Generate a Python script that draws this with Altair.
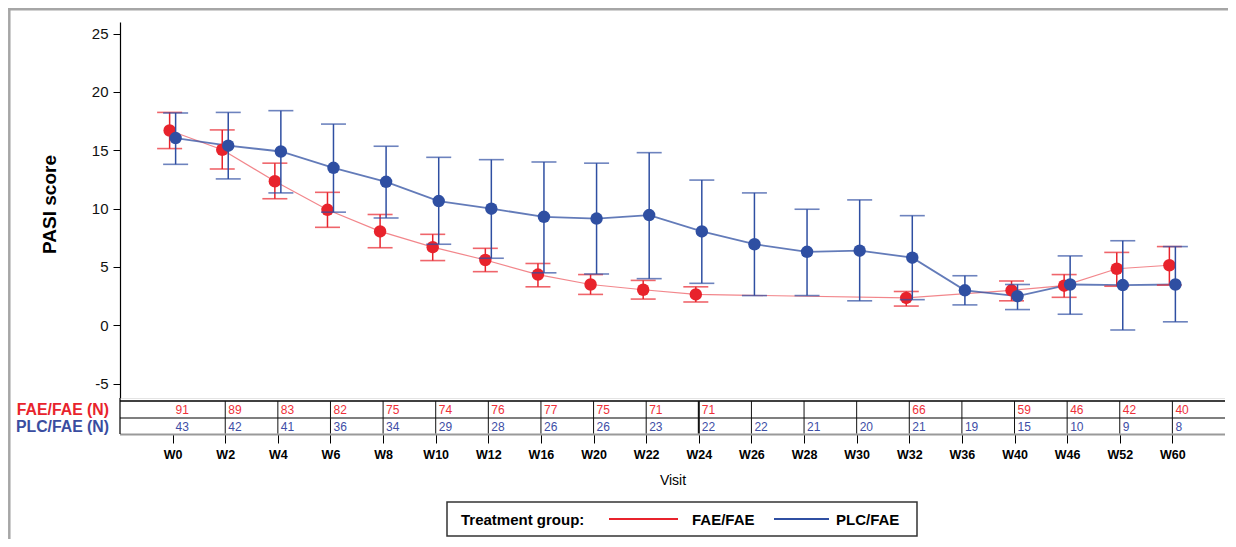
import altair as alt
import pandas as pd

visits = ["W0", "W2", "W4", "W6", "W8", "W10", "W12", "W16", "W20", "W22",
          "W24", "W26", "W28", "W30", "W32", "W36", "W40", "W46", "W52", "W60"]
groups = ["FAE/FAE", "PLC/FAE"]

fae_mean = [16.7, 15.05, 12.35, 9.9, 8.05, 6.7, 5.6, 4.35, 3.5, 3.05, 2.65, None, None, None, 2.35, None, 3.0, 3.4, 4.85, 5.15]
fae_hi = [18.25, 16.75, 13.9, 11.4, 9.5, 7.8, 6.6, 5.3, 4.35, 3.85, 3.3, None, None, None, 2.9, None, 3.8, 4.35, 6.25, 6.75]
fae_lo = [15.15, 13.4, 10.85, 8.4, 6.65, 5.55, 4.6, 3.3, 2.65, 2.25, 2.0, None, None, None, 1.65, None, 2.1, 2.4, 3.35, 3.45]

plc_mean = [16.05, 15.4, 14.9, 13.5, 12.3, 10.65, 10.0, 9.3, 9.15, 9.45, 8.05, 6.95, 6.3, 6.4, 5.8, 3.0, 2.5, 3.5, 3.45, 3.5]
plc_hi = [18.2, 18.25, 18.4, 17.25, 15.35, 14.4, 14.2, 14.0, 13.9, 14.8, 12.45, 11.35, 9.95, 10.75, 9.4, 4.25, 3.5, 5.95, 7.25, 6.75]
plc_lo = [13.8, 12.55, 11.35, 9.7, 9.2, 6.95, 5.75, 4.5, 4.4, 4.0, 3.6, 2.55, 2.55, 2.1, 2.2, 1.75, 1.35, 0.95, -0.4, 0.3]

fae_n = [91, 89, 83, 82, 75, 74, 76, 77, 75, 71, 71, None, None, None, 66, None, 59, 46, 42, 40]
plc_n = [43, 42, 41, 36, 34, 29, 28, 26, 26, 23, 22, 22, 21, 20, 21, 19, 15, 10, 9, 8]

y_ticks = [-5, 0, 5, 10, 15, 20, 25]
legend_title = "Treatment group:"

RED = "#E8232C"
BLUE = "#2F4FA2"
FONT = "Liberation Sans"

rows = []
for i, v in enumerate(visits):
    rows.append(dict(visit=v, group=groups[0], mean=fae_mean[i], lo=fae_lo[i], hi=fae_hi[i], n=fae_n[i]))
    rows.append(dict(visit=v, group=groups[1], mean=plc_mean[i], lo=plc_lo[i], hi=plc_hi[i], n=plc_n[i]))
df = pd.DataFrame(rows)

W, H = 1105, 376

xscale = alt.Scale(domain=visits, type="point", padding=1.107)
x_axis = alt.X("visit:N", scale=xscale, title="Visit",
               axis=alt.Axis(offset=36, domain=False, tickColor="black", tickSize=9, tickWidth=1,
                             labelFont=FONT, labelFontSize=12.5, labelFontWeight="bold",
                             labelColor="black", labelPadding=5, labelAngle=0,
                             titleFont=FONT, titleFontSize=14, titleFontWeight="normal",
                             titleColor="black", titlePadding=13))

yscale = alt.Scale(domain=[-6.23, 26.0], nice=False, zero=False)
y_axis = alt.Y("mean:Q", scale=yscale, title="PASI score",
               axis=alt.Axis(values=y_ticks, labelExpr="'' + datum.value", grid=False,
                             domainColor="black", domainWidth=1.2, tickColor="black", tickSize=7,
                             labelFont=FONT, labelFontSize=15, labelColor="#111", labelPadding=5,
                             titleFont=FONT, titleFontSize=19, titleFontWeight="bold",
                             titleColor="black", titlePadding=32, titleY=182))

color = alt.Color("group:N", scale=alt.Scale(domain=groups, range=[RED, BLUE]), legend=None)

base = alt.Chart(df).transform_filter("isValid(datum.mean)")

layers = []
offs = {groups[0]: -3, groups[1]: 3}
cols = {groups[0]: RED, groups[1]: BLUE}
line_style = {groups[0]: dict(strokeWidth=1.2, opacity=0.55), groups[1]: dict(strokeWidth=1.8, opacity=0.75)}

for g in groups:
    b = base.transform_filter(alt.datum.group == g)
    o = offs[g]
    layers.append(b.mark_line(xOffset=o, **line_style[g]).encode(
        x=x_axis, y=y_axis, color=color))
for g in groups:
    b = base.transform_filter(alt.datum.group == g)
    o = offs[g]
    layers.append(b.mark_rule(xOffset=o, color=cols[g], strokeWidth=1.5).encode(
        x=x_axis, y=alt.Y("lo:Q", scale=yscale), y2="hi:Q"))
    layers.append(b.mark_tick(xOffset=o, color=cols[g], orient="horizontal", size=25, thickness=1.6).encode(
        x=x_axis, y=alt.Y("lo:Q", scale=yscale)))
    layers.append(b.mark_tick(xOffset=o, color=cols[g], orient="horizontal", size=25, thickness=1.6).encode(
        x=x_axis, y=alt.Y("hi:Q", scale=yscale)))
    layers.append(b.mark_circle(xOffset=o, color=cols[g], size=155, opacity=1).encode(
        x=x_axis, y=alt.Y("mean:Q", scale=yscale)))

one = alt.Data(values=[{}])

def hrule(y, color_, width, x1=0, x2=W):
    return alt.Chart(one).mark_rule(color=color_, strokeWidth=width).encode(
        x=alt.value(x1), x2=alt.value(x2), y=alt.value(y))

def vrule(x, y1, y2, color_, width):
    return alt.Chart(one).mark_rule(color=color_, strokeWidth=width).encode(
        x=alt.value(x), y=alt.value(y1), y2=alt.value(y2))

# table of counts
table = [
    hrule(376.5, "#e4e4e4", 1),
    hrule(379, "black", 1.5),
    hrule(396, "black", 1.2),
    hrule(412.5, "#9a9a9a", 2.2),
    vrule(0, 376, 412, "black", 1.2),
]
sep = alt.Chart(df).transform_filter(alt.datum.group == groups[0]).transform_filter(
    alt.datum.visit != "W0"
).mark_rule(color="#111").encode(
    x=x_axis, y=alt.value(379), y2=alt.value(411.5),
    strokeWidth=alt.condition(alt.datum.visit == "W24", alt.value(2), alt.value(1))
)
table.append(sep)
for g, yv in ((groups[0], 388), (groups[1], 404.5)):
    table.append(alt.Chart(df).transform_filter(alt.datum.group == g).transform_filter(
        "isValid(datum.n)"
    ).mark_text(align="left", baseline="middle", dx=3, font=FONT, fontSize=12,
                color=("#EE3038" if g == groups[0] else "#3E4EA6")).encode(
        x=x_axis, y=alt.value(yv), text=alt.Text("n:Q", format="d")))
    table.append(alt.Chart(one).mark_text(align="right", baseline="middle", font=FONT, fontSize=15.8,
                                          fontWeight="bold",
                                          color=(RED if g == groups[0] else "#3A4DA0")).encode(
        x=alt.value(-11), y=alt.value(yv), text=alt.value(g + " (N)")))

# legend box
leg = [
    alt.Chart(one).mark_rect(fill="white", stroke="#333", strokeWidth=1.5).encode(
        x=alt.value(327), x2=alt.value(797), y=alt.value(480), y2=alt.value(514)),
    alt.Chart(one).mark_text(align="left", baseline="middle", font=FONT, fontSize=15,
                             fontWeight="bold", color="black").encode(
        x=alt.value(341), y=alt.value(497.5), text=alt.value(legend_title)),
    alt.Chart(one).mark_rule(color=RED, strokeWidth=2.2).encode(
        x=alt.value(489), x2=alt.value(558), y=alt.value(497)),
    alt.Chart(one).mark_text(align="left", baseline="middle", font=FONT, fontSize=15,
                             fontWeight="bold", color="black").encode(
        x=alt.value(572), y=alt.value(497.5), text=alt.value(groups[0])),
    alt.Chart(one).mark_rule(color=BLUE, strokeWidth=2.2).encode(
        x=alt.value(654), x2=alt.value(709), y=alt.value(497)),
    alt.Chart(one).mark_text(align="left", baseline="middle", font=FONT, fontSize=15,
                             fontWeight="bold", color="black").encode(
        x=alt.value(716), y=alt.value(497.5), text=alt.value(groups[1])),
]

# outer frame (top and left edges)
frame = [
    alt.Chart(one).mark_rule(color="#a6a6a6", strokeWidth=2.5).encode(
        x=alt.value(-112), x2=alt.value(1108), y=alt.value(-12.7)),
    alt.Chart(one).mark_rule(color="#a6a6a6", strokeWidth=2.5).encode(
        x=alt.value(-110.7), y=alt.value(-14), y2=alt.value(517)),
]

chart = alt.layer(*frame, *table, *leg, *layers).properties(
    width=W, height=H,
    background="white",
    autosize=alt.AutoSizeParams(type="none"),
    padding={"left": 112, "top": 14, "right": 3, "bottom": 141},
).configure_view(stroke=None)

chart.save("out.html", embed_options={"renderer": "svg", "actions": False})
